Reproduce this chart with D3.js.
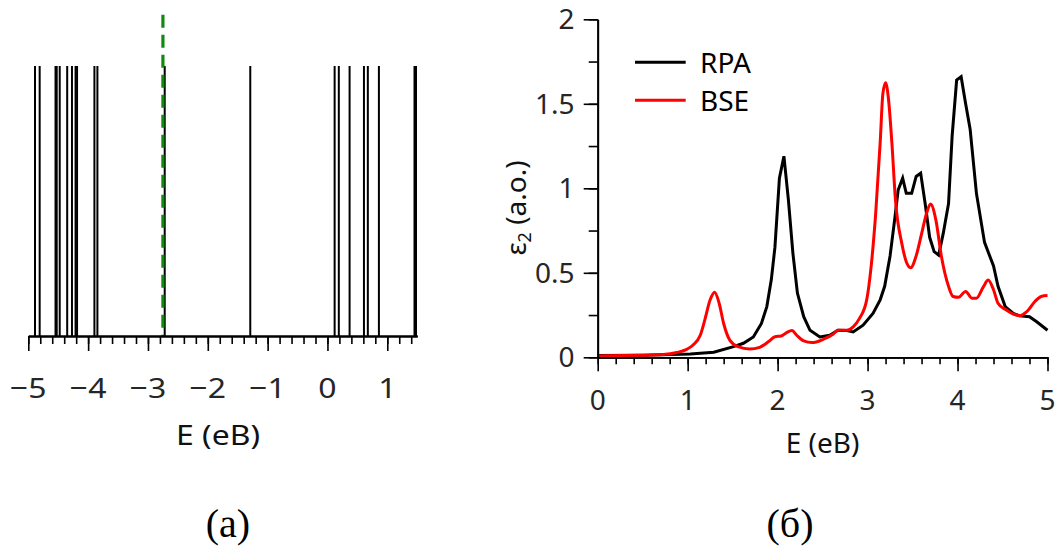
<!DOCTYPE html>
<html><head><meta charset="utf-8">
<script src="https://cdn.jsdelivr.net/npm/d3@7"></script>
<style>html,body{margin:0;padding:0;background:#fff;}svg{display:block;}</style>
</head><body>
<svg id="chart" width="1056" height="546"></svg>
<script>
// ---- Data ----
// Panel (a): energy levels (eV)
const levels = [-4.888, -4.81, -4.545, -4.525, -4.475, -4.35, -4.27, -4.21, -4.185, -3.895, -3.845,
                -2.72, -1.29, 0.12, 0.19, 0.37, 0.61, 0.675, 0.86, 1.455, 1.48];
const fermiLevel = -2.75;
const leftTicks = [-5, -4, -3, -2, -1, 0, 1];

// Panel (b): RPA (linear) and BSE (smooth) spectra
const rpaE = [0, 0.5, 1.03, 1.29, 1.51, 1.62, 1.73, 1.82, 1.88, 1.93, 1.97, 2.02, 2.07, 2.12, 2.17, 2.22, 2.29, 2.36, 2.47, 2.58, 2.67, 2.77, 2.84, 2.95, 3.06, 3.14, 3.19, 3.25, 3.30, 3.34, 3.39, 3.43, 3.49, 3.54, 3.59, 3.64, 3.69, 3.74, 3.79, 3.84, 3.90, 3.94, 3.99, 4.04, 4.09, 4.14, 4.21, 4.30, 4.40, 4.45, 4.53, 4.62, 4.69, 4.80, 4.88, 5.0];
const rpaV = [0.01, 0.012, 0.02, 0.03, 0.063, 0.083, 0.12, 0.2, 0.3, 0.46, 0.65, 1.06, 1.19, 0.93, 0.615, 0.38, 0.24, 0.16, 0.12, 0.13, 0.16, 0.158, 0.15, 0.19, 0.26, 0.34, 0.42, 0.6, 0.81, 0.99, 1.06, 0.97, 0.97, 1.07, 1.09, 0.91, 0.71, 0.625, 0.605, 0.73, 0.91, 1.31, 1.64, 1.66, 1.50, 1.35, 0.97, 0.68, 0.54, 0.42, 0.30, 0.26, 0.245, 0.24, 0.21, 0.16];
const bseE = [0, 0.47, 0.73, 0.88, 0.99, 1.06, 1.14, 1.19, 1.25, 1.30, 1.35, 1.40, 1.47, 1.56, 1.69, 1.80, 1.90, 1.97, 2.04, 2.10, 2.16, 2.21, 2.29, 2.38, 2.51, 2.62, 2.67, 2.77, 2.84, 2.91, 2.99, 3.04, 3.09, 3.14, 3.17, 3.20, 3.23, 3.27, 3.31, 3.38, 3.43, 3.48, 3.54, 3.60, 3.66, 3.70, 3.76, 3.82, 3.90, 3.95, 4.01, 4.09, 4.16, 4.21, 4.29, 4.34, 4.40, 4.45, 4.53, 4.62, 4.69, 4.77, 4.86, 4.93, 5.0];
const bseV = [0.008, 0.012, 0.016, 0.028, 0.047, 0.073, 0.13, 0.22, 0.34, 0.385, 0.32, 0.2, 0.1, 0.063, 0.049, 0.059, 0.093, 0.122, 0.126, 0.146, 0.158, 0.132, 0.097, 0.087, 0.107, 0.138, 0.16, 0.16, 0.18, 0.23, 0.34, 0.54, 0.85, 1.27, 1.56, 1.625, 1.54, 1.27, 0.93, 0.675, 0.566, 0.53, 0.6, 0.73, 0.86, 0.907, 0.81, 0.6, 0.42, 0.36, 0.355, 0.39, 0.35, 0.35, 0.42, 0.457, 0.40, 0.32, 0.284, 0.256, 0.246, 0.27, 0.33, 0.36, 0.365];
const rightXTicks = [0, 1, 2, 3, 4, 5];
const rightYTicks = [0, 0.5, 1, 1.5, 2];
const seriesNames = ["RPA", "BSE"];
const seriesColors = ["#000000", "#ff0000"];

// ---- Drawing ----
const svg = d3.select("#chart");
const FONT = "'Noto Sans', 'Open Sans', sans-serif";
const labelColor = "#262626";

// ===== Panel (a) =====
const xL = d3.scaleLinear().domain([-5, 1.5]).range([28.3, 417.2]);
const yL = d3.scaleLinear().domain([0, 1]).range([336, 66]);

const gL = svg.append("g");
gL.selectAll("line.level").data(levels).join("line")
  .attr("class", "level")
  .attr("x1", d => xL(d)).attr("x2", d => xL(d))
  .attr("y1", yL(0)).attr("y2", yL(1))
  .attr("stroke", "#000").attr("stroke-width", 2);

gL.append("line")
  .attr("x1", xL(fermiLevel)).attr("x2", xL(fermiLevel))
  .attr("y1", yL(1.19)).attr("y2", yL(0))
  .attr("stroke", "#128a12").attr("stroke-width", 3.2)
  .attr("stroke-dasharray", "13,7");

function styleAxis(g) {
  g.selectAll("path.domain").attr("stroke", "#000").attr("stroke-width", 1.8);
  g.selectAll(".tick line").attr("stroke", "#000").attr("stroke-width", 1.6);
  g.selectAll("text").remove();
}

const minorL = d3.range(-5, 1.5001, 0.2).map(v => +v.toFixed(2));
const axL = gL.append("g").attr("transform", `translate(0,${yL(0)})`);
axL.append("g").call(d3.axisBottom(xL).tickValues(minorL).tickSize(8).tickSizeOuter(0).tickFormat("")).call(styleAxis);
axL.append("g").call(d3.axisBottom(xL).tickValues(leftTicks).tickSize(15).tickSizeOuter(0).tickFormat("")).call(styleAxis);

const SX = 1.14; // left panel text is slightly wider
gL.selectAll("text.xl").data(leftTicks).join("text")
  .attr("class", "xl")
  .attr("transform", d => `translate(${xL(d)},398) scale(${SX},1)`)
  .attr("text-anchor", "middle")
  .attr("font-family", FONT).attr("font-size", 28).attr("fill", labelColor)
  .text(d => d3.format("")(d).replace("-", "\u2212"));

gL.append("text").attr("transform", `translate(218,445) scale(${SX},1)`).attr("text-anchor", "middle")
  .attr("font-family", FONT).attr("font-size", 28).attr("fill", "#111")
  .text("E (eB)");

// ===== Panel (b) =====
const xR = d3.scaleLinear().domain([0, 5]).range([597.7, 1047.5]);
const yR = d3.scaleLinear().domain([0, 2]).range([357.3, 19.3]);
const gR = svg.append("g");

const rpa = rpaE.map((e, i) => [e, rpaV[i]]);
const bse = bseE.map((e, i) => [e, bseV[i]]);

gR.append("path").datum(rpa)
  .attr("d", d3.line().x(d => xR(d[0])).y(d => yR(d[1])).curve(d3.curveLinear))
  .attr("fill", "none").attr("stroke", seriesColors[0]).attr("stroke-width", 3).attr("stroke-linejoin", "miter");
gR.append("path").datum(bse)
  .attr("d", d3.line().x(d => xR(d[0])).y(d => yR(d[1])).curve(d3.curveMonotoneX))
  .attr("fill", "none").attr("stroke", seriesColors[1]).attr("stroke-width", 3);

const minorRx = d3.range(0, 5.0001, 0.2).map(v => +v.toFixed(2));
const axRx = gR.append("g").attr("transform", `translate(0,${yR(0)})`);
axRx.append("g").call(d3.axisBottom(xR).tickValues(minorRx).tickSize(7).tickSizeOuter(0).tickFormat("")).call(styleAxis);
axRx.append("g").call(d3.axisBottom(xR).tickValues(rightXTicks).tickSize(14).tickSizeOuter(0).tickFormat("")).call(styleAxis);

const minorRy = d3.range(0, 2.0001, 0.25).map(v => +v.toFixed(2));
const axRy = gR.append("g").attr("transform", `translate(${xR(0)},0)`);
axRy.append("g").call(d3.axisLeft(yR).tickValues(minorRy).tickSize(9).tickSizeOuter(0).tickFormat("")).call(styleAxis);
axRy.append("g").call(d3.axisLeft(yR).tickValues(rightYTicks).tickSize(14).tickSizeOuter(0).tickFormat("")).call(styleAxis);

gR.selectAll("text.xr").data(rightXTicks).join("text")
  .attr("class", "xr")
  .attr("x", d => xR(d)).attr("y", 409.7)
  .attr("text-anchor", "middle")
  .attr("font-family", FONT).attr("font-size", 28).attr("fill", labelColor)
  .text(d => d);

gR.selectAll("text.yr").data(rightYTicks).join("text")
  .attr("class", "yr")
  .attr("x", 574.5).attr("y", d => yR(d) + 10)
  .attr("text-anchor", "end")
  .attr("font-family", FONT).attr("font-size", 28).attr("fill", labelColor)
  .text(d => d);

gR.append("text").attr("x", 822.6).attr("y", 453).attr("text-anchor", "middle")
  .attr("font-family", FONT).attr("font-size", 28).attr("fill", "#111")
  .text("E (eB)");

const yt = gR.append("text")
  .attr("transform", "translate(526,208) rotate(-90)")
  .attr("text-anchor", "middle")
  .attr("font-family", FONT).attr("font-size", 28).attr("fill", "#111");
yt.append("tspan").text("\u03b5");
yt.append("tspan").attr("font-size", 18).attr("dy", 5).text("2");
yt.append("tspan").attr("dy", -5).text(" (a.o.)");

// Legend
const leg = gR.append("g");
seriesNames.forEach((name, i) => {
  const yy = 62.3 + i * 38;
  leg.append("line").attr("x1", 635).attr("x2", 685.7).attr("y1", yy).attr("y2", yy)
    .attr("stroke", seriesColors[i]).attr("stroke-width", 3);
  leg.append("text").attr("x", 700).attr("y", yy + 11)
    .attr("font-family", FONT).attr("font-size", 28).attr("fill", "#000")
    .text(name);
});

// Captions
const SERIF = "'Liberation Serif', 'DejaVu Serif', serif";
svg.append("text").attr("x", 228).attr("y", 537).attr("text-anchor", "middle")
  .attr("font-family", SERIF).attr("font-size", 40).attr("fill", "#000").text("(a)");
svg.append("text").attr("x", 790).attr("y", 537).attr("text-anchor", "middle")
  .attr("font-family", SERIF).attr("font-size", 40).attr("fill", "#000").text("(б)");
</script>
</body></html>
